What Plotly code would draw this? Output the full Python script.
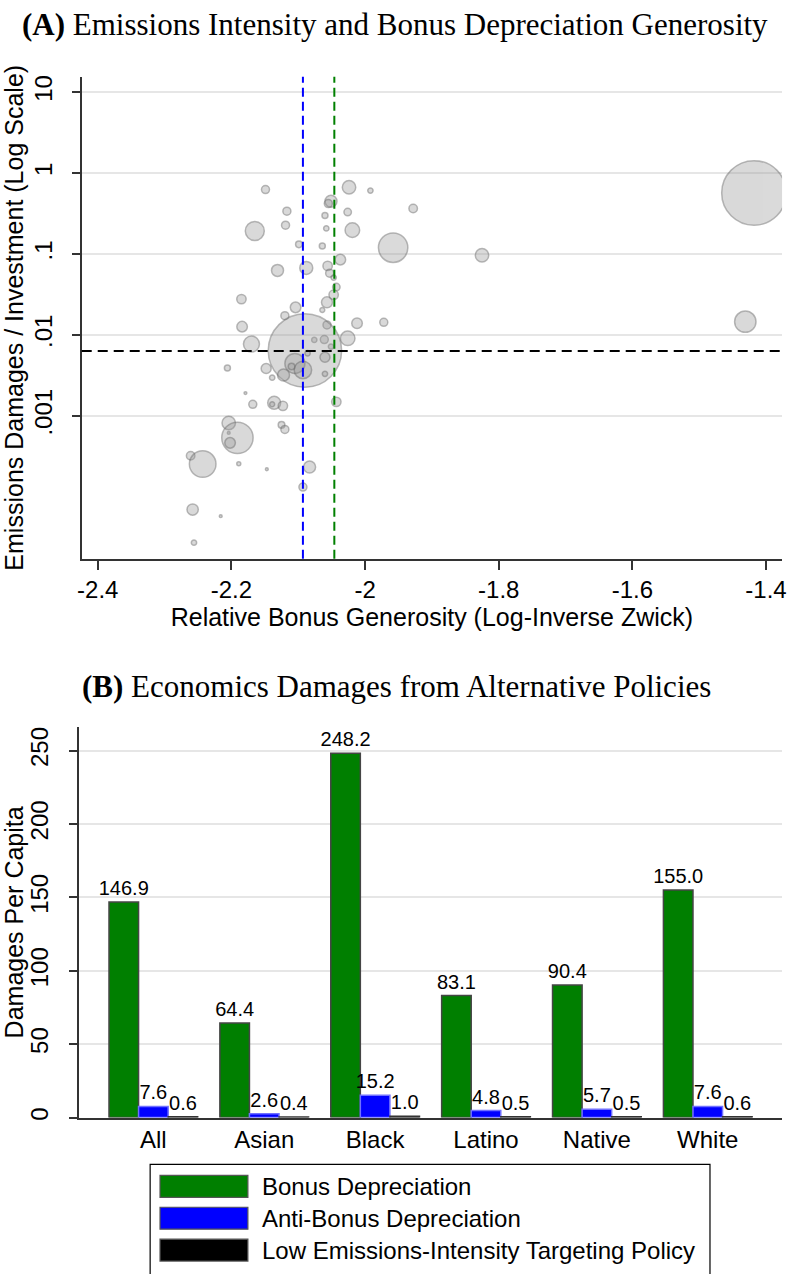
import numpy as np
import plotly.graph_objects as go

W, H = 792, 1274

# ---------------- Panel A data ----------------
bonus_generosity = [
    -2.149, -2.024, -1.992, -2.051, -2.055, -1.928, -2.117, -2.026, -2.060, -2.119,
    -2.165, -2.019, -2.058, -1.958, -2.099, -2.064, -2.037, -2.131, -2.088, -2.056,
    -2.053, -2.047, -2.043, -2.047, -2.185, -2.104, -2.057, -2.064, -2.120, -2.012,
    -1.972, -2.057, -2.184, -2.026, -2.076, -2.061, -2.051, -2.170, -2.090, -2.060,
    -2.086, -2.105, -2.093, -2.110, -2.122, -2.206, -2.148, -2.139, -2.060, -2.179,
    -2.168, -2.136, -2.139, -2.123, -2.043, -2.204, -2.125, -2.120, -2.204, -2.191,
    -2.202, -2.261, -2.243, -2.189, -2.147, -2.083, -2.093, -2.258, -2.216, -2.256,
    -1.825, -1.418, -1.431,
]
emissions_intensity = [
    0.625, 0.667, 0.607, 0.449, 0.420, 0.365, 0.338, 0.329, 0.299, 0.227,
    0.192, 0.197, 0.207, 0.1195, 0.1316, 0.1254, 0.0851, 0.0627, 0.0673, 0.0712,
    0.0579, 0.0511, 0.0390, 0.0313, 0.0277, 0.0219, 0.0253, 0.0203, 0.0173, 0.01397,
    0.01429, 0.01327, 0.01265, 0.00908, 0.00868, 0.00876, 0.00718, 0.00770, 0.00641, 0.00530,
    0.00594, 0.00444, 0.00369, 0.00407, 0.00320, 0.00390, 0.00385, 0.00296, 0.00331, 0.00191,
    0.00139, 0.00145, 0.00139, 0.00133, 0.00149, 0.000818, 0.000773, 0.000679, 0.000616, 0.000535,
    0.000464, 0.000321, 0.000254, 0.000256, 0.000219, 0.000233, 0.000132, 0.0000696, 0.0000577, 0.0000271,
    0.0964, 0.5675, 0.01458,
]
investment_weight = [
    16, 45, 7, 36, 16, 18, 16, 14, 9, 16,
    90, 53, 7, 216, 11, 9, 28, 36, 42, 22,
    16, 7, 14, 22, 22, 28, 30, 6, 16, 28,
    16, 16, 28, 53, 7, 16, 7, 64, 1347, 25,
    7, 100, 76, 11, 36, 9, 25, 7, 7, 2,
    16, 42, 6, 22, 22, 45, 11, 16, 2, 246,
    28, 18, 177, 4, 2, 36, 16, 32, 2, 7,
    45, 1043, 114,
]
median_generosity = -2.093      # blue dashed
mean_generosity = -2.046        # green dashed
intensity_cutoff = 0.00635      # black dashed

x_ticks_a = [-2.4, -2.2, -2.0, -1.8, -1.6, -1.4]
x_ticklabels_a = ["-2.4", "-2.2", "-2", "-1.8", "-1.6", "-1.4"]
y_ticks_a = [10, 1, 0.1, 0.01, 0.001]
y_ticklabels_a = ["10", "1", ".1", ".01", ".001"]

# ---------------- Panel B data ----------------
groups = ["All", "Asian", "Black", "Latino", "Native", "White"]
bonus_dep = [146.9, 64.4, 248.2, 83.1, 90.4, 155.0]
anti_bonus_dep = [7.6, 2.6, 15.2, 4.8, 5.7, 7.6]
low_intensity = [0.6, 0.4, 1.0, 0.5, 0.5, 0.6]
series_names = ["Bonus Depreciation", "Anti-Bonus Depreciation",
                "Low Emissions-Intensity Targeting Policy"]
y_ticks_b = [0, 50, 100, 150, 200, 250]

# ---------------- styling ----------------
SANS = "Liberation Sans"
SERIF = "Liberation Serif"
GREEN = "#007F00"
BLUE = "#0000FF"
BLACK = "#000000"
AXC = "#333333"
GRID = "#e6e6e6"


def px(xp):
    return xp / W


def py(yp):
    return (H - yp) / H


fig = go.Figure()

# Panel A bubbles
fig.add_trace(go.Scatter(
    x=bonus_generosity, y=emissions_intensity, mode="markers",
    marker=dict(size=2 * np.sqrt(np.array(investment_weight, dtype=float)), sizemode="diameter",
                color="rgba(150,150,150,0.5)",
                line=dict(color="rgba(100,100,100,0.65)", width=1.5)),
    xaxis="x", yaxis="y", showlegend=False, hoverinfo="skip"))

# Panel B bars
bar_colors = [GREEN, BLUE, BLACK]
bar_lines = ["#454545", "#7070ff", "#333333"]
for vals, name, c, lc in zip([bonus_dep, anti_bonus_dep, low_intensity], series_names, bar_colors, bar_lines):
    fig.add_trace(go.Bar(
        x=groups, y=vals, name=name,
        marker=dict(color=c, line=dict(color=lc, width=1.5)),
        text=[f"{v:.1f}" for v in vals], textposition="outside",
        constraintext="none", cliponaxis=False,
        textfont=dict(family=SANS, size=20, color="black"),
        xaxis="x2", yaxis="y2", showlegend=False, hoverinfo="skip"))

shapes = [
    dict(type="line", xref="x", yref="y domain", x0=median_generosity, x1=median_generosity,
         y0=0, y1=1, line=dict(color=BLUE, width=2, dash="9px,5px")),
    dict(type="line", xref="x", yref="y domain", x0=mean_generosity, x1=mean_generosity,
         y0=0, y1=1, line=dict(color="#008000", width=2, dash="9px,5px")),
    dict(type="line", xref="x domain", yref="y", x0=0, x1=1, y0=intensity_cutoff, y1=intensity_cutoff,
         line=dict(color=BLACK, width=2, dash="10px,6px")),
]

# Custom legend (Stata style)
shapes.append(dict(type="rect", xref="paper", yref="paper", x0=px(147), x1=px(714),
                   y0=py(1278), y1=py(1167), line=dict(color="black", width=1.2), fillcolor="white"))
annotations = []
row_y = [1189, 1221, 1253]
for ry, name, c in zip(row_y, series_names, bar_colors):
    shapes.append(dict(type="rect", xref="paper", yref="paper", x0=px(157), x1=px(246),
                       y0=py(ry + 11), y1=py(ry - 11), line=dict(color="#555555", width=1.2),
                       fillcolor=c))
    annotations.append(dict(text=name, xref="paper", yref="paper", x=px(258), y=py(ry),
                            xanchor="left", yanchor="middle", showarrow=False,
                            font=dict(family=SANS, size=24, color="black")))

# Panel titles
annotations.append(dict(text="<b>(A)</b> Emissions Intensity and Bonus Depreciation Generosity",
                        xref="paper", yref="paper", x=px(395), y=py(23), xanchor="center",
                        yanchor="middle", showarrow=False,
                        font=dict(family=SERIF, size=31, color="black")))
annotations.append(dict(text="<b>(B)</b> Economics Damages from Alternative Policies",
                        xref="paper", yref="paper", x=px(396), y=py(687), xanchor="center",
                        yanchor="middle", showarrow=False,
                        font=dict(family=SERIF, size=31, color="black")))

axis_common = dict(showline=True, linecolor=AXC, linewidth=1.5, zeroline=False,
                   tickcolor=AXC, tickwidth=1.5, tickfont=dict(family=SANS, size=24, color="black"))

fig.update_layout(
    width=W, height=H, margin=dict(l=0, r=0, t=0, b=0),
    paper_bgcolor="white", plot_bgcolor="white",
    font=dict(family=SANS, color="black"),
    barmode="group", bargap=0.2, bargroupgap=0.0, showlegend=False,
    xaxis=dict(domain=[px(77.7), px(787)], anchor="y", range=[-2.424, -1.376],
               tickvals=x_ticks_a, ticktext=x_ticklabels_a, ticks="outside", ticklen=9,
               showgrid=False,
               title=dict(text="Relative Bonus Generosity (Log-Inverse Zwick)",
                          font=dict(family=SANS, size=25), standoff=2),
               **axis_common),
    yaxis=dict(domain=[py(559), py(75)], anchor="x", type="log", range=[-4.766, 1.19],
               tickvals=y_ticks_a, ticktext=y_ticklabels_a, tickangle=-90, ticks="outside", ticklen=8,
               ticklabelstandoff=10,
               showgrid=True, gridcolor=GRID, gridwidth=1.5,
               title=dict(text="Emissions Damages / Investment (Log Scale)",
                          font=dict(family=SANS, size=25), standoff=0),
               **axis_common),
    xaxis2=dict(domain=[px(75), px(787)], anchor="y2", range=[-0.67, 5.67],
                ticks="", showgrid=False, **axis_common),
    yaxis2=dict(domain=[py(1120), py(728)], anchor="x2", range=[0, 266],
                tickvals=y_ticks_b, tickangle=-90, ticks="outside", ticklen=8,
                ticklabelstandoff=12,
                showgrid=True, gridcolor=GRID, gridwidth=1.5,
                title=dict(text="Damages Per Capita", font=dict(family=SANS, size=25), standoff=0),
                **axis_common),
    shapes=shapes, annotations=annotations,
)

fig.write_html("out.html")
